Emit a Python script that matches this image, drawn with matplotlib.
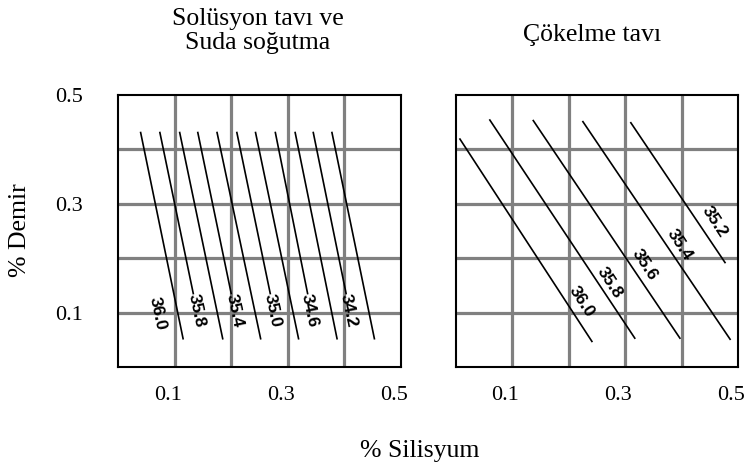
import numpy as np
import matplotlib
matplotlib.use('Agg')
from matplotlib import pyplot as plt
from matplotlib.transforms import ScaledTranslation

# contour lines, solution anneal + water quench
sol_levels = [36.0, 35.8, 35.6, 35.4, 35.2, 35.0, 34.8, 34.6, 34.4, 34.2, 34.0]
sol_x_top = [0.040, 0.074, 0.109, 0.141, 0.175, 0.210, 0.243, 0.278, 0.313, 0.345, 0.378]
sol_y_top = [0.431] * 11
sol_x_bot = [0.115, 0.133, 0.185, 0.200, 0.252, 0.269, 0.319, 0.335, 0.387, 0.403, 0.453]
sol_y_bot = [0.052, 0.135, 0.052, 0.135, 0.052, 0.135, 0.052, 0.135, 0.052, 0.135, 0.052]
sol_label_vals = [36.0, 35.8, 35.4, 35.0, 34.6, 34.2]
sol_label_x = [0.069, 0.139, 0.206, 0.273, 0.339, 0.407]
sol_label_y = [0.099, 0.104, 0.104, 0.104, 0.104, 0.104]

# contour lines, precipitation anneal
pre_levels = [36.0, 35.8, 35.6, 35.4, 35.2]
pre_x_top = [0.007, 0.060, 0.137, 0.225, 0.310]
pre_y_top = [0.419, 0.454, 0.453, 0.451, 0.449]
pre_x_bot = [0.241, 0.317, 0.397, 0.486, 0.477]
pre_y_bot = [0.047, 0.053, 0.053, 0.051, 0.192]
pre_label_x = [0.222, 0.272, 0.334, 0.396, 0.458]
pre_label_y = [0.120, 0.154, 0.1875, 0.224, 0.267]

grid_ticks = [0.1, 0.2, 0.3, 0.4]
label_ticks = [0.1, 0.3, 0.5]
tick_text = ['0.1', '0.3', '0.5']

W, H = 746, 469
SERIF = 'Liberation Serif'
SANS = 'Liberation Sans'


def px(x, y):
    return x / W, 1 - y / H


def panel(fig, left, right, top, bottom):
    x0, y1 = px(left, top)
    x1, y0 = px(right, bottom)
    ax = fig.add_axes([x0, y0, x1 - x0, y1 - y0])
    ax.set_xlim(0, 0.5)
    ax.set_ylim(0, 0.5)
    for g in grid_ticks:
        ax.axvline(g, color='#808080', lw=2.3, zorder=1)
        ax.axhline(g, color='#808080', lw=2.3, zorder=1)
    for s in ax.spines.values():
        s.set_linewidth(1.5)
        s.set_zorder(5)
    ax.set_xticks(label_ticks)
    ax.set_xticklabels(tick_text, fontfamily=SERIF, fontsize=16)
    ax.tick_params(length=0, pad=14)
    shift = ScaledTranslation(-7 / 100, 0, fig.dpi_scale_trans)
    for lab in ax.get_xticklabels():
        lab.set_transform(lab.get_transform() + shift)
    return ax


fig = plt.figure(figsize=(W / 100, H / 100), dpi=100)

ax1 = panel(fig, 118, 401, 95, 367)
ax1.set_yticks(label_ticks)
ax1.set_yticklabels(tick_text, fontfamily=SERIF, fontsize=16)
ax1.tick_params(axis='y', pad=25)
for xt, yt, xb, yb in zip(sol_x_top, sol_y_top, sol_x_bot, sol_y_bot):
    ax1.plot([xt, xb], [yt, yb], color='black', lw=1.2, zorder=3)
for v, x, y in zip(sol_label_vals, sol_label_x, sol_label_y):
    ax1.text(x, y, f'{v:.1f}', rotation=-78, rotation_mode='anchor',
             ha='center', va='center', fontfamily=SANS, fontweight='bold',
             fontsize=12.5, zorder=4)

ax2 = panel(fig, 456, 738, 95, 367)
ax2.set_yticks([])
for xt, yt, xb, yb in zip(pre_x_top, pre_y_top, pre_x_bot, pre_y_bot):
    ax2.plot([xt, xb], [yt, yb], color='black', lw=1.2, zorder=3)
for v, x, y in zip(pre_levels, pre_label_x, pre_label_y):
    ax2.text(x, y, f'{v:.1f}', rotation=-57, rotation_mode='anchor',
             ha='center', va='center', fontfamily=SANS, fontweight='bold',
             fontsize=12.5, zorder=4)

# titles and axis names
fig.text(*px(258, 25), 'Solüsyon tavı ve', ha='center', va='baseline',
         fontfamily=SERIF, fontsize=18.5)
fig.text(*px(258, 49), 'Suda soğutma', ha='center', va='baseline',
         fontfamily=SERIF, fontsize=18.5)
fig.text(*px(592, 41), 'Çökelme tavı', ha='center', va='baseline',
         fontfamily=SERIF, fontsize=18.5)
fig.text(*px(20, 230), '% Demir', rotation=90, ha='center', va='center',
         fontfamily=SERIF, fontsize=18.5)
fig.text(*px(420, 451), '% Silisyum', ha='center', va='center',
         fontfamily=SERIF, fontsize=18.5)

fig.savefig('out.png', dpi=100)
